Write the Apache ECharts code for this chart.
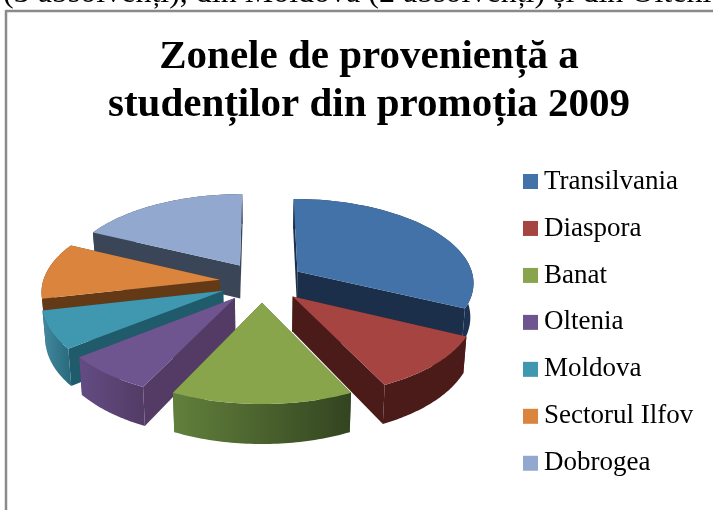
<!DOCTYPE html>
<html>
<head>
<meta charset="utf-8">
<style>html,body{margin:0;padding:0;background:#fff}#main{width:713px;height:510px}</style>
<script src="https://cdn.jsdelivr.net/npm/echarts@6/dist/echarts.min.js"></script>
</head>
<body>
<div id="main"></div>
<script>
const categories = ['Transilvania', 'Diaspora', 'Banat', 'Oltenia', 'Moldova', 'Sectorul Ilfov', 'Dobrogea']
const values = [9, 3, 4, 2, 2, 3, 5]

const topColors = ['#4372a8', '#a54441', '#88a54b', '#6f5590', '#3f97b0', '#db843d', '#92a8cf']
const sideColors = ['#1b2f4a', '#4a1b18', '#4b6030', '#533b66', '#1f5b6b', '#643a16', '#3a4558']
const rimColors = [
  ['#1b2f4a', '#1d3250'],
  ['#4a1b18', '#4a1b18'],
  ['#62803c', '#334420'],
  ['#634c82', '#533b66'],
  ['#44899f', '#27697c'],
  ['#643a16', '#643a16'],
  ['#3a4558', '#3a4558']
]

// 3D pie camera, fitted by eye
const cx = 262, cy = 282
const scaleX = 177, scaleY = 83.7, persp = 0.1207
const depth = 34, shrink = 0.985, explode = 0.24

const total = values.reduce((a, b) => a + b, 0)
const starts = values.map((v, i) => values.slice(0, i).reduce((a, b) => a + b, 0) / total * Math.PI * 2)

function project(u, v, down) {
  const w = 1 - persp * v
  let x = cx + scaleX * u / w
  let y = cy + scaleY * v / w
  if (down) {
    x = cx + (x - cx) * shrink
    y += depth / w
  }
  return [x, y]
}

function renderSlice(i, value) {
  const a0 = starts[i]
  const a1 = a0 + value / total * Math.PI * 2
  const mid = (a0 + a1) / 2
  const ou = explode * Math.sin(mid)
  const ov = -explode * Math.cos(mid)
  const rim = []
  for (let s = 0; s <= 48; s++) {
    const a = a0 + (a1 - a0) * s / 48
    rim.push([ou + Math.sin(a), ov - Math.cos(a)])
  }
  const topRim = rim.map(p => project(p[0], p[1], false))
  const lowRim = rim.map(p => project(p[0], p[1], true))
  const apexTop = project(ou, ov, false)
  const apexLow = project(ou, ov, true)
  const last = rim.length - 1
  const poly = (points, fill) => ({
    type: 'polygon',
    shape: { points },
    style: { fill, stroke: null },
    silent: true
  })
  return {
    type: 'group',
    children: [
      poly([apexTop, topRim[0], lowRim[0], apexLow], sideColors[i]),
      poly([apexTop, topRim[last], lowRim[last], apexLow], sideColors[i]),
      poly(topRim.concat(lowRim.slice().reverse()), new echarts.graphic.LinearGradient(0, 0, 1, 0, [
        { offset: 0, color: rimColors[i][0] },
        { offset: 1, color: rimColors[i][1] }
      ])),
      poly([apexTop].concat(topRim), topColors[i])
    ]
  }
}

// back slices get painted first
const drawOrder = categories.map((c, i) => i).sort((a, b) => {
  const m = i => -Math.cos(starts[i] + values[i] / total * Math.PI)
  return m(a) - m(b)
})

const myChart = echarts.init(document.getElementById('main'))
myChart.setOption({
  animation: false,
  title: {
    text: 'Zonele de proveniență a\nstudenților din promoția 2009',
    left: 364,
    top: 28,
    textAlign: 'center',
    textStyle: {
      fontFamily: 'Liberation Serif',
      fontWeight: 'bold',
      fontSize: 41,
      lineHeight: 48,
      color: '#000'
    }
  },
  legend: {
    data: categories,
    orient: 'vertical',
    left: 518,
    top: 163,
    itemWidth: 15,
    itemHeight: 15,
    itemGap: 19.96,
    icon: 'rect',
    textStyle: {
      fontFamily: 'Liberation Serif',
      fontSize: 27,
      padding: [0, 0, 0, 1],
      color: '#000'
    }
  },
  graphic: [
    {
      type: 'text',
      left: 3,
      top: -22,
      silent: true,
      style: {
        text: '(3 absolvenți), din Moldova (2 absolvenți) și din Oltenia',
        fontFamily: 'Liberation Serif',
        fontSize: 32,
        fill: '#000'
      }
    },
    { type: 'line', silent: true, shape: { x1: 6, y1: 11, x2: 713, y2: 11 }, style: { stroke: '#8a8a8a', lineWidth: 2.5 } },
    { type: 'line', silent: true, shape: { x1: 6, y1: 10, x2: 6, y2: 510 }, style: { stroke: '#8a8a8a', lineWidth: 2.5 } }
  ],
  series: drawOrder.map(i => ({
    type: 'custom',
    name: categories[i],
    coordinateSystem: 'none',
    itemStyle: { color: topColors[i] },
    data: [values[i]],
    renderItem: (params, api) => renderSlice(i, api.value(0))
  }))
})
</script>
</body>
</html>
